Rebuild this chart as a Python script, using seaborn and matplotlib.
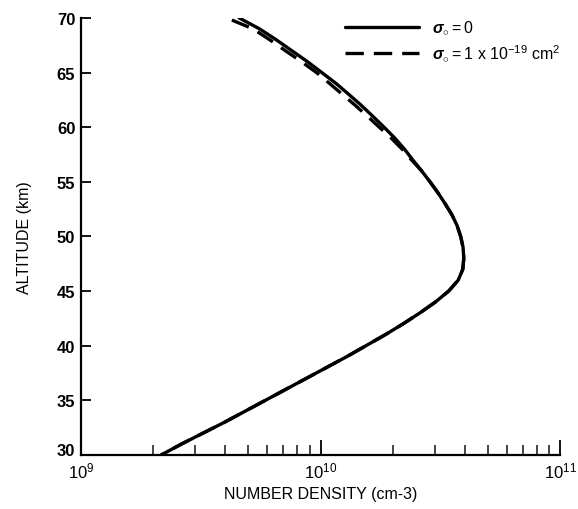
import numpy as np
import pandas as pd
import seaborn as sns
import matplotlib
matplotlib.use("Agg")
import matplotlib.pyplot as plt
import matplotlib.transforms as mtrans
from matplotlib.ticker import LogLocator, FixedLocator

# Altitude (km) and number density (cm^-3)
alt_solid = [30, 31, 32, 33, 34, 35, 36, 37, 38, 39, 40, 41, 42, 43, 44, 45, 46,
             47, 48, 49, 50, 51, 52, 53, 54, 55, 56, 57, 58, 59, 60, 61, 62, 63,
             64, 65, 66, 67, 68, 69, 70]
dens_solid = [2.163e9, 2.630e9, 3.236e9, 3.981e9, 4.842e9, 5.888e9, 7.161e9,
              8.710e9, 1.059e10, 1.288e10, 1.549e10, 1.862e10, 2.213e10,
              2.600e10, 3.020e10, 3.428e10, 3.758e10, 3.926e10, 3.963e10,
              3.936e10, 3.846e10, 3.715e10, 3.532e10, 3.311e10, 3.090e10,
              2.864e10, 2.642e10, 2.427e10, 2.239e10, 2.042e10, 1.841e10,
              1.652e10, 1.479e10, 1.312e10, 1.161e10, 1.012e10, 8.810e9,
              7.586e9, 6.531e9, 5.559e9, 4.571e9]

alt_dash = [30, 31, 32, 33, 34, 35, 36, 37, 38, 39, 40, 41, 42, 43, 44, 45, 46,
            47, 48, 49, 50, 51, 52, 53, 54, 55, 56, 57, 58, 59, 60, 61, 62, 63,
            64, 65, 66, 67, 68, 69, 69.8]
dens_dash = [2.163e9, 2.630e9, 3.236e9, 3.981e9, 4.842e9, 5.888e9, 7.161e9,
             8.710e9, 1.059e10, 1.288e10, 1.549e10, 1.862e10, 2.213e10,
             2.600e10, 3.020e10, 3.428e10, 3.758e10, 3.926e10, 3.963e10,
             3.936e10, 3.846e10, 3.715e10, 3.532e10, 3.311e10, 3.090e10,
             2.864e10, 2.642e10, 2.399e10, 2.188e10, 1.972e10, 1.758e10,
             1.570e10, 1.396e10, 1.233e10, 1.091e10, 9.616e9, 8.318e9,
             7.129e9, 6.138e9, 5.224e9, 4.266e9]

label_solid = r"$\sigma_{\circ}$$=$0"
label_dash = r"$\sigma_{\circ}$$=$1 x 10$^{-19}$ cm$^{2}$"

# draw the dashed profile from its top end so the dash pattern starts cleanly there
df_s = pd.DataFrame({"alt": alt_solid, "dens": dens_solid})
df_d = pd.DataFrame({"alt": alt_dash[::-1], "dens": dens_dash[::-1]})

sns.set_theme(style="ticks")
plt.rcParams["font.family"] = ["Liberation Sans", "DejaVu Sans"]
plt.rcParams["mathtext.fontset"] = "custom"
plt.rcParams["mathtext.rm"] = "Liberation Sans"
plt.rcParams["mathtext.it"] = "Liberation Sans:italic:bold"
plt.rcParams["mathtext.bf"] = "Liberation Sans:bold"

fig = plt.figure(figsize=(5.78, 5.10), dpi=100)
ax = fig.add_axes([0.140, 0.106, 0.829, 0.857])

sns.lineplot(data=df_s, x="dens", y="alt", sort=False, estimator=None, ax=ax,
             color="black", linewidth=2.4, label=label_solid)
sns.lineplot(data=df_d, x="dens", y="alt", sort=False, estimator=None, ax=ax,
             color="black", linewidth=2.4, dashes=(5.5, 3.0), label=label_dash)

ax.set_xscale("log")
ax.set_xlim(1e9, 1e11)
ax.set_ylim(30, 70)
ax.yaxis.set_major_locator(FixedLocator([30, 35, 40, 45, 50, 55, 60, 65, 70]))
ax.xaxis.set_major_locator(LogLocator(base=10, numticks=5))
ax.xaxis.set_minor_locator(LogLocator(base=10, subs=np.arange(2, 10), numticks=20))

for s in ["top", "right"]:
    ax.spines[s].set_visible(False)
for s in ["left", "bottom"]:
    ax.spines[s].set_linewidth(1.6)
    ax.spines[s].set_color("black")

ax.tick_params(axis="x", which="major", direction="in", length=11, width=1.3,
               labelsize=12, pad=4, colors="black")
ax.tick_params(axis="x", which="minor", direction="in", length=7, width=1.2)
ax.tick_params(axis="y", which="major", direction="in", length=7, width=1.3,
               labelsize=12, pad=4, colors="black")
for lab in ax.get_yticklabels():
    lab.set_fontweight("bold")

ax.set_xlabel("NUMBER DENSITY (cm-3)", fontsize=11.5, labelpad=4)
ax.set_ylabel("ALTITUDE (km)", fontsize=11.5, labelpad=18)
ax.xaxis.label.set_color("black")
ax.yaxis.label.set_color("black")

# lift the lowest altitude label slightly, as in the original
fig.canvas.draw()
ylabs = ax.get_yticklabels()
ylabs[0].set_transform(ylabs[0].get_transform() +
                       mtrans.ScaledTranslation(0, 4 / 72, fig.dpi_scale_trans))

leg = ax.legend(loc="upper right", bbox_to_anchor=(1.03, 1.03), frameon=False,
                fontsize=11.5, handlelength=4.6, handletextpad=0.8, labelspacing=0.3)
for t in leg.get_texts():
    t.set_color("black")

fig.savefig("out.png", dpi=100, facecolor="white")
